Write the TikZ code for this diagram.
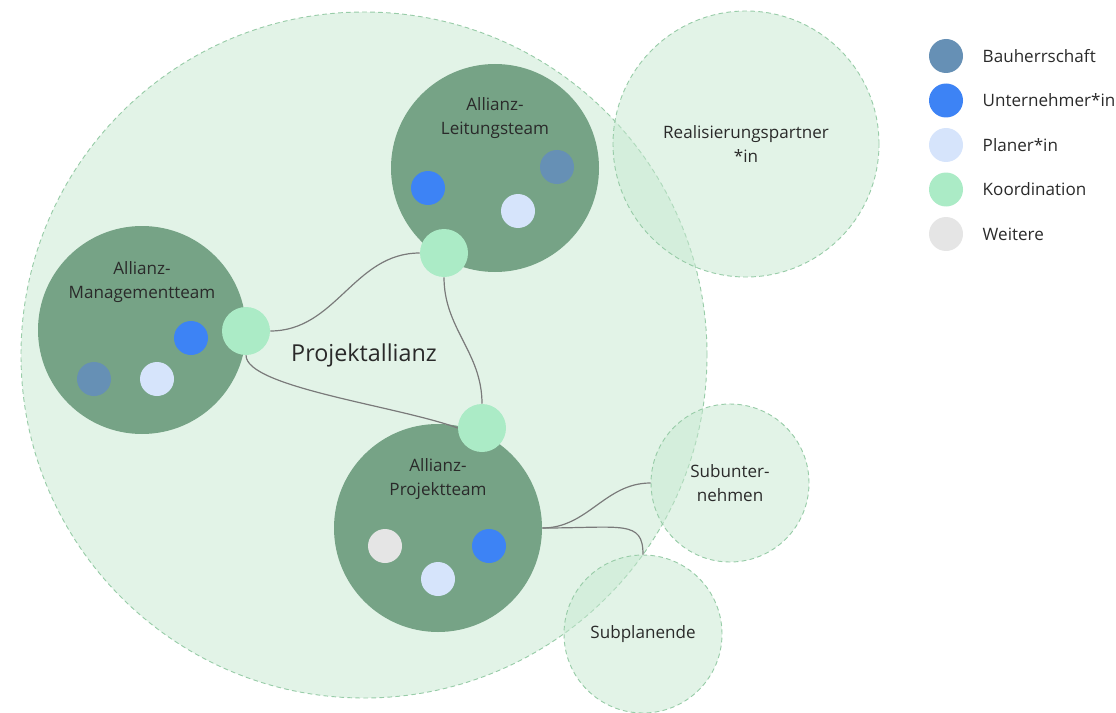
\documentclass[tikz,border=0pt]{standalone}
\usepackage{fontspec}
\setmainfont{Open Sans}
\usetikzlibrary{positioning}
\definecolor{zone}{HTML}{C6E8D0}
\definecolor{zoneline}{HTML}{98CCA8}
\definecolor{team}{HTML}{76A386}
\definecolor{bauherr}{HTML}{6690B5}
\definecolor{unternehmer}{HTML}{3D83F5}
\definecolor{planer}{HTML}{D6E4FB}
\definecolor{koord}{HTML}{ABEBC6}
\definecolor{weitere}{HTML}{E5E5E5}
\definecolor{ink}{HTML}{2A2A2A}
\definecolor{wirecol}{HTML}{7A7A7A}
\tikzset{
  zonecirc/.style={circle, inner sep=0pt, minimum size=#1, fill=zone, fill opacity=0.5,
    text opacity=1, text=ink, align=center, font=\fontsize{12.8}{17.5}\selectfont,
    draw=zoneline, dash pattern=on 3.5pt off 2.5pt, line width=0.7pt},
  teamcirc/.style={circle, inner sep=0pt, minimum size=156pt, fill=team},
  dot/.style={circle, inner sep=0pt, minimum size=25.5pt, fill=#1},
  kdot/.style={circle, inner sep=0pt, minimum size=36pt, fill=koord},
  lbl/.style={text=ink, align=center, font=\fontsize{12.8}{17.5}\selectfont},
  wire/.style={draw=wirecol, line width=0.9pt},
}

\begin{document}
\begin{tikzpicture}[x=0.75pt, y=-0.75pt]
\useasboundingbox (0,0) rectangle (1116,713);

% outer zones
\node[zonecirc=514.5pt, font=\fontsize{17.5}{21}\selectfont] (allianz) at (364,355) {Projektallianz};
\node[zonecirc=199.5pt] (real) at (746,144) {Realisierungspartner\\{}*in};
\node[zonecirc=118.5pt] (subu) at (730,483) {Subunter-\\nehmen};
\node[zonecirc=118.5pt] (subp) at (643,634) {Subplanende};

% teams
\node[teamcirc] (leitung) at (495,168) {};
\node[teamcirc] (mgmt) at (142,330) {};
\node[teamcirc] (projekt) at (438,528) {};
\node[lbl] (leitung-title) at (495,118) {Allianz-\\Leitungsteam};
\node[lbl] (mgmt-title) at (142,282) {Allianz-\\Managementteam};
\node[lbl] (projekt-title) at (438,479) {Allianz-\\Projektteam};

% members
\node[dot=unternehmer] (l1) at (428,188) {};
\node[dot=bauherr] (l2) at (557,167) {};
\node[dot=planer] (l3) at (518,211) {};
\node[dot=unternehmer] (m1) at (191,338) {};
\node[dot=bauherr] (m2) at (94,379) {};
\node[dot=planer] (m3) at (157,379) {};
\node[dot=weitere] (p1) at (385,546) {};
\node[dot=unternehmer] (p2) at (489,546) {};
\node[dot=planer] (p3) at (438,579) {};

% coordination
\node[kdot] (lk) at (444,253) {};
\node[kdot] (mk) at (246,331) {};
\node[kdot] (pk) at (482,428) {};

\draw[wire] (mk.east) to[out=0,in=180] (lk.west);
\draw[wire] (mk.south) .. controls +(0,32) and +(-60,-22) .. (pk.west);
\draw[wire] (lk.south) to[out=-90,in=90] (pk.north);
\draw[wire] (projekt.east) to[out=0,in=180] (subu.west);
\draw[wire] (projekt.east) .. controls +(80,0) and +(0,-35) .. (subp.north);

% legend
\foreach \col/\txt [count=\i] in {bauherr/Bauherrschaft, unternehmer/Unternehmer*in,
    planer/Planer*in, koord/Koordination, weitere/Weitere}
{
  \node[dot=\col] (leg-\i) at (946,{56+44.5*(\i-1)}) {};
  \node[lbl, anchor=west] (legtext-\i) at (978,{56+44.5*(\i-1)}) {\txt};
}
\end{tikzpicture}
\end{document}
